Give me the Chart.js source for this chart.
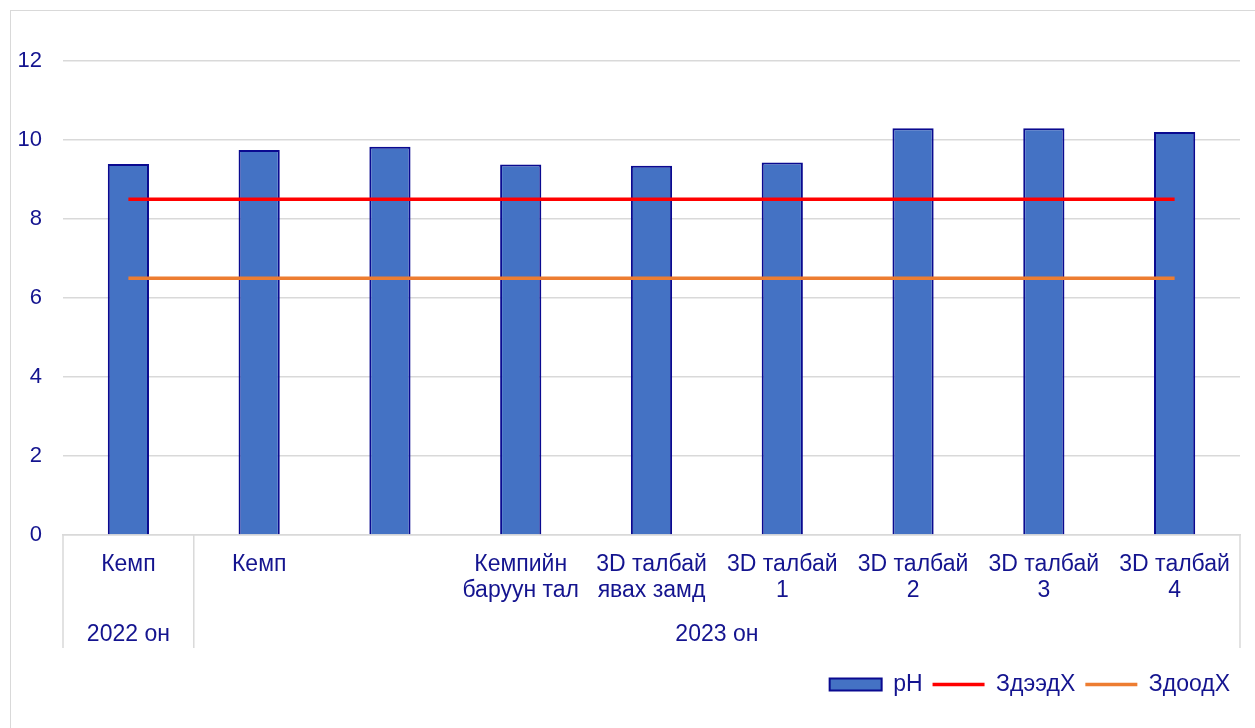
<!DOCTYPE html>
<html>
<head>
<meta charset="utf-8">
<script src="https://cdn.jsdelivr.net/npm/chart.js@4.4.1/dist/chart.umd.min.js"></script>
<style>
  html, body { margin: 0; padding: 0; background: #fff; overflow: hidden; }
  .wrap { position: relative; width: 1255px; height: 728px; }
  .frame {
    position: absolute; left: 10px; top: 10px; width: 1300px; height: 800px;
    border: 1.5px solid #d9d9d9; pointer-events: none;
  }
  #chart { position: absolute; left: 0; top: 0; }
</style>
</head>
<body>
<div class="wrap">
  <div class="frame"></div>
  <canvas id="chart" width="1255" height="728"></canvas>
</div>
<script>
// categories (multi-line tick labels)
const categories = [
  ['Кемп'],
  ['Кемп'],
  [''],
  ['Кемпийн', 'баруун тал'],
  ['3D талбай', 'явах замд'],
  ['3D талбай', '1'],
  ['3D талбай', '2'],
  ['3D талбай', '3'],
  ['3D талбай', '4'],
];
// second level of the category axis
const groupLabels = ['2022 он', '2023 он'];
const groupSizes = [1, 8];

const phValues = [9.39, 9.75, 9.83, 9.38, 9.35, 9.43, 10.3, 10.3, 10.2];
const upperLimit = [8.5, 8.5, 8.5, 8.5, 8.5, 8.5, 8.5, 8.5, 8.5];
const lowerLimit = [6.5, 6.5, 6.5, 6.5, 6.5, 6.5, 6.5, 6.5, 6.5];

const seriesNames = ['pH', 'ЗдээдХ', 'ЗдоодХ'];
const yTicks = [0, 2, 4, 6, 8, 10, 12];

const textColor = '#14148f';
const gridColor = '#d9d9d9';
const fontFamily = "'Liberation Sans', Arial, sans-serif";

// draws the "2022 он / 2023 он" level and its separators
const groupAxis = {
  id: 'groupAxis',
  afterDraw(chart) {
    const { ctx, chartArea, scales } = chart;
    const x = scales.x;
    const bottom = 648;
    const edges = [chartArea.left];
    let idx = 0;
    groupSizes.forEach((n) => {
      idx += n;
      if (idx < categories.length) {
        edges.push((x.getPixelForValue(idx - 1) + x.getPixelForValue(idx)) / 2);
      } else {
        edges.push(chartArea.right);
      }
    });

    ctx.save();
    ctx.strokeStyle = gridColor;
    ctx.lineWidth = 1.5;
    edges.forEach((px) => {
      ctx.beginPath();
      ctx.moveTo(px, chartArea.bottom);
      ctx.lineTo(px, bottom);
      ctx.stroke();
    });

    ctx.fillStyle = textColor;
    ctx.font = `23px ${fontFamily}`;
    ctx.textAlign = 'center';
    ctx.textBaseline = 'middle';
    groupLabels.forEach((label, i) => {
      ctx.fillText(label, (edges[i] + edges[i + 1]) / 2, 635);
    });
    ctx.restore();
  },
};

const data = {
  labels: categories,
  datasets: [
    {
      type: 'bar',
      label: seriesNames[0],
      data: phValues,
      backgroundColor: '#4472c4',
      borderColor: '#0a0a90',
      borderWidth: 2,
      categoryPercentage: 1,
      barPercentage: 0.315,
      order: 1,
    },
    {
      type: 'line',
      label: seriesNames[1],
      data: upperLimit,
      borderColor: '#ff0000',
      backgroundColor: '#ff0000',
      borderWidth: 3.5,
      pointRadius: 0,
      order: 0,
    },
    {
      type: 'line',
      label: seriesNames[2],
      data: lowerLimit,
      borderColor: '#ed7d31',
      backgroundColor: '#ed7d31',
      borderWidth: 3.5,
      pointRadius: 0,
      order: 0,
    },
  ],
};

const config = {
  type: 'bar',
  data: data,
  options: {
    responsive: false,
    animation: false,
    devicePixelRatio: 1,
    layout: {
      padding: { top: 61, right: 15, bottom: 22, left: 0 },
    },
    scales: {
      x: {
        grid: { display: false, drawTicks: false },
        border: { display: true, color: gridColor, width: 1.5 },
        ticks: {
          color: textColor,
          font: { family: fontFamily, size: 23, lineHeight: '26px' },
          padding: 17,
          maxRotation: 0,
          autoSkip: false,
        },
        afterFit: (scale) => {
          scale.height = 128;
        },
      },
      y: {
        min: yTicks[0],
        max: yTicks[yTicks.length - 1],
        grid: { color: gridColor, lineWidth: 1.5, drawTicks: false },
        border: { display: false },
        afterBuildTicks: (scale) => {
          scale.ticks = yTicks.map((v) => ({ value: v }));
        },
        ticks: {
          color: textColor,
          font: { family: fontFamily, size: 22 },
          padding: 21,
        },
        afterFit: (scale) => {
          scale.width = 63;
        },
      },
    },
    plugins: {
      legend: {
        position: 'bottom',
        align: 'end',
        labels: {
          color: textColor,
          font: { family: fontFamily, size: 23 },
          usePointStyle: true,
          pointStyleWidth: 52,
          boxHeight: 12,
          padding: 10,
          sort: (a, b) => a.datasetIndex - b.datasetIndex,
          generateLabels: (chart) => {
            const items = Chart.defaults.plugins.legend.labels.generateLabels(chart);
            items.forEach((item) => {
              const ds = chart.data.datasets[item.datasetIndex];
              item.pointStyle = ds.type === 'line' ? 'line' : 'rect';
              item.lineWidth = ds.type === 'line' ? 3.5 : 2;
            });
            return items;
          },
        },
      },
      tooltip: { enabled: false },
    },
  },
  plugins: [groupAxis],
};

new Chart(document.getElementById('chart'), config);
</script>
</body>
</html>
